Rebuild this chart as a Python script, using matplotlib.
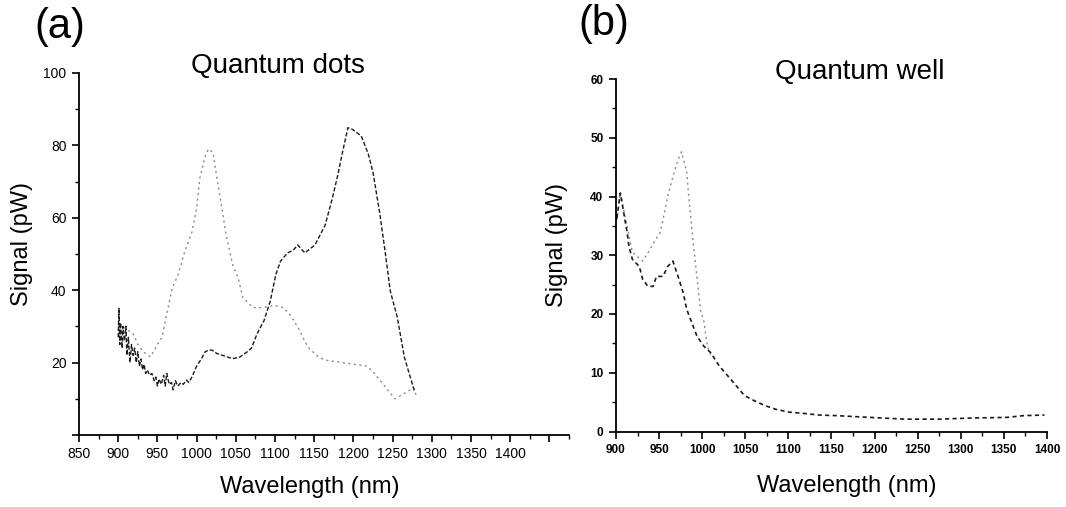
import matplotlib
matplotlib.use("Agg")
import matplotlib.pyplot as plt
from matplotlib.ticker import MultipleLocator, FixedLocator, FixedFormatter

plt.rcParams['font.family'] = ['Liberation Sans', 'DejaVu Sans']

# ---------------- Panel (a): Quantum dots ----------------
qd1_wl = [900, 905, 912, 919, 925, 932, 941, 950, 956, 961, 969, 976, 985, 994,
          1000, 1004, 1011, 1015, 1021, 1024, 1033, 1037, 1046, 1053, 1059, 1072,
          1085, 1098, 1111, 1120, 1129, 1142, 1155, 1164, 1218, 1227, 1238, 1253,
          1277, 1280]
qd1_sig = [30, 30, 29, 28, 25, 23, 21.6, 25, 27, 32.5, 40.7, 44, 50.8, 56,
           62.6, 70.8, 77, 79, 78, 73.5, 61.7, 56, 47, 43.4, 38, 35.2,
           35.2, 35.8, 35.2, 33, 29.8, 24.3, 21.6, 20.7, 19, 17, 14, 10,
           13, 11]

qd2_wl = [900, 901, 902, 903, 905, 906, 908, 910, 911, 913, 915, 917, 919, 921,
          923, 925, 927, 929, 931, 933, 935, 937, 940, 943, 946, 948, 950, 952,
          955, 958, 960, 962, 965, 968, 970, 973, 976, 980, 983, 987, 990, 994,
          1000, 1006, 1011, 1016, 1020, 1026, 1033, 1040, 1046, 1055, 1064, 1070,
          1077, 1086, 1094, 1101, 1107, 1116, 1123, 1129, 1138, 1151, 1164, 1173,
          1180, 1186, 1193, 1199, 1210, 1219, 1225, 1234, 1241, 1247, 1256, 1265,
          1278]
qd2_sig = [27, 35, 25, 31, 24, 30, 26, 30, 22, 27, 20, 25, 22, 24,
           20, 23, 19, 21, 18, 19.5, 17, 18, 16.5, 17, 15, 16, 13.5, 15.5,
           14, 16.5, 13.5, 17, 14, 14.5, 12.5, 15, 13.5, 14.5, 14, 15.2, 14.5, 16,
           19, 21, 23, 23.5, 23.4, 22.5, 22, 21.5, 21.1, 21.5, 22.9, 24,
           27.9, 31.6, 37, 44.3, 48, 50.3, 51, 52.5, 50.3, 52.5, 58, 65.3,
           71.7, 78, 84.9, 84.4, 82.6, 77.6, 72.6, 60.7, 49.8, 39.8, 32.5, 21.5,
           12]

qd_xticks = [850, 900, 950, 1000, 1050, 1100, 1150, 1200, 1250, 1300, 1350, 1400, 1450]
qd_xticklabels = ['850', '900', '950', '1000', '1050', '1100', '1150', '1200',
                  '1250', '1300', '1350', '1400', '']
qd_yticks = [0, 20, 40, 60, 80, 100]
qd_yticklabels = ['', '20', '40', '60', '80', '100']

# ---------------- Panel (b): Quantum well ----------------
qw1_wl = [901, 905, 913, 915, 919, 927, 931, 937, 943, 947, 954.5, 960, 966, 972,
          978, 982, 988, 994, 1002, 1010, 1020, 1029.5, 1039.4, 1049, 1061, 1073,
          1085, 1100.6, 1116, 1136, 1156, 1195, 1235, 1274, 1314, 1353, 1373, 1397]
qw1_sig = [36.3, 40.6, 33.8, 31.5, 29.3, 28.1, 25.9, 24.7, 24.7, 26.4, 26.4, 28.1,
           29, 26.4, 23.6, 20.8, 18.5, 16.2, 14.5, 13.4, 11.1, 9.5, 7.8, 6.1, 5.2,
           4.4, 3.8, 3.3, 3.1, 2.8, 2.7, 2.4, 2.1, 2.1, 2.3, 2.4, 2.7, 2.8]

qw2_wl = [901, 905, 919, 931, 937, 946, 951, 954.5, 960, 966, 972, 976, 982, 984,
          990, 994, 998, 1002, 1006, 1010]
qw2_sig = [36, 40.6, 30.5, 29, 30.4, 32.7, 33.8, 36, 40, 43.4, 46.3, 47.6, 44.2,
           40.6, 31.5, 26.2, 20.7, 18.7, 14.5, 13]

qw_xticks = [900, 950, 1000, 1050, 1100, 1150, 1200, 1250, 1300, 1350, 1400]
qw_yticks = [0, 10, 20, 30, 40, 50, 60]

W, H = 1066, 507
fig = plt.figure(figsize=(W / 100, H / 100), dpi=100)

def frac_box(l, t, r, b):
    return [l / W, 1 - b / H, (r - l) / W, (b - t) / H]

ax1 = fig.add_axes(frac_box(79, 73, 569, 435))
ax2 = fig.add_axes(frac_box(616, 79, 1047, 431.5))

light = '#8a8a8a'
dark = '#1a1a1a'

ax1.plot(qd1_wl, qd1_sig, color=light, lw=1.0, ls=(0, (1.5, 2.5)))
ax1.plot(qd2_wl, qd2_sig, color=dark, lw=1.0, ls=(0, (3, 1.5)))
ax2.plot(qw2_wl, qw2_sig, color=light, lw=1.0, ls=(0, (1.5, 2.5)))
ax2.plot(qw1_wl, qw1_sig, color=dark, lw=1.2, ls=(0, (2.5, 2)))

ax1.set_xlim(850, 1475)
ax1.set_ylim(0, 100)
ax1.xaxis.set_major_locator(FixedLocator(qd_xticks))
ax1.xaxis.set_major_formatter(FixedFormatter(qd_xticklabels))
ax1.xaxis.set_minor_locator(MultipleLocator(25))
ax1.yaxis.set_major_locator(FixedLocator(qd_yticks))
ax1.yaxis.set_major_formatter(FixedFormatter(qd_yticklabels))
ax1.yaxis.set_minor_locator(MultipleLocator(10))

ax2.set_xlim(900, 1400)
ax2.set_ylim(0, 60)
ax2.xaxis.set_major_locator(FixedLocator(qw_xticks))
ax2.xaxis.set_minor_locator(MultipleLocator(25))
ax2.yaxis.set_major_locator(FixedLocator(qw_yticks))
ax2.yaxis.set_minor_locator(MultipleLocator(5))

for ax, fs, fw in ((ax1, 10, 'normal'), (ax2, 8.5, 'bold')):
    for s in ('top', 'right'):
        ax.spines[s].set_visible(False)
    for s in ('left', 'bottom'):
        ax.spines[s].set_linewidth(1.3)
        ax.spines[s].set_color('black')
    ax.tick_params(which='major', direction='out', length=5, width=1.2,
                   labelsize=fs, colors='black', pad=4)
    ax.tick_params(which='minor', direction='out', length=3, width=1.0)
    for lbl in ax.get_xticklabels() + ax.get_yticklabels():
        lbl.set_fontweight(fw)
    ax.set_facecolor('none')

ax1.set_title('Quantum dots', fontsize=20, x=(278 - 79) / 490, y=1.0, pad=0)
ax2.set_title('Quantum well', fontsize=20, x=(860 - 616) / 431, y=1.0, pad=0)

ax1.set_xlabel('Wavelength (nm)', fontsize=17)
ax1.xaxis.set_label_coords((310 - 79) / 490, -(487 - 435) / 362)
ax1.set_ylabel('Signal (pW)', fontsize=17)
ax1.yaxis.set_label_coords(-(79 - 22) / 490, (435 - 244) / 362)

ax2.set_xlabel('Wavelength (nm)', fontsize=17)
ax2.xaxis.set_label_coords((847 - 616) / 431, -(486 - 431.5) / 352.5)
ax2.set_ylabel('Signal (pW)', fontsize=17)
ax2.yaxis.set_label_coords(-(616 - 557) / 431, (431.5 - 245) / 352.5)
for ax in (ax1, ax2):
    ax.xaxis.label.set_va('center')
    ax.yaxis.label.set_va('center')
    ax.yaxis.label.set_ha('center')

fig.text(60 / W, 1 - 27 / H, '(a)', fontsize=30, ha='center', va='center')
fig.text(604 / W, 1 - 24 / H, '(b)', fontsize=30, ha='center', va='center')

fig.savefig('out.png', dpi=100, facecolor='white')
